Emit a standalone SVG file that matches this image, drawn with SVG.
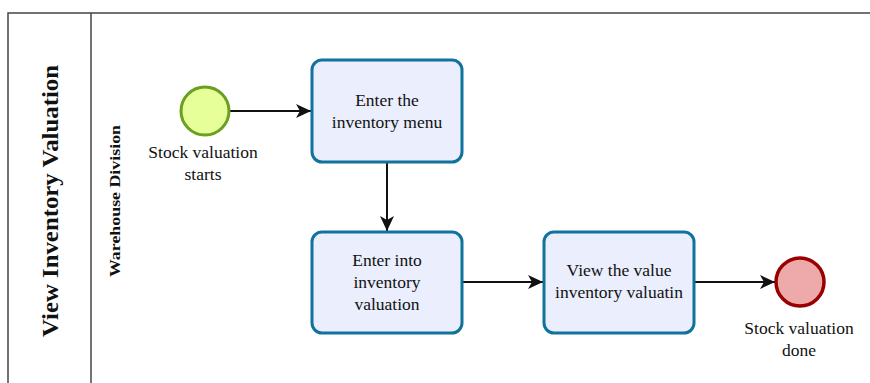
<svg xmlns="http://www.w3.org/2000/svg" width="870" height="383" viewBox="0 0 870 383">
<defs>
<style>
text{font-family:"Liberation Serif",serif;fill:#111;text-anchor:middle}
.t{font-size:17.5px}
.task{fill:#eaeefd;stroke:#10739e;stroke-width:3}
.ln{stroke:#111;stroke-width:2;fill:none}
.pool{fill:none;stroke:#444;stroke-width:1.5}
</style>
<marker id="ar" markerWidth="16" markerHeight="16" refX="15" refY="8" orient="auto" markerUnits="userSpaceOnUse" viewBox="0 0 16 16">
<path d="M0,1 L15,8 L0,15 L4,8 Z" fill="#111"/>
</marker>
</defs>
<rect width="870" height="383" fill="#fff"/>
<g id="pool">
<path class="pool" d="M8,390 L8,13 L880,13"/>
<line x1="91" y1="13" x2="91" y2="390" stroke="#444" stroke-width="1.5"/>
<text font-family="Liberation Serif, serif" transform="translate(58,201) rotate(-90)" font-size="24" font-weight="bold" textLength="272" lengthAdjust="spacingAndGlyphs">View Inventory Valuation</text>
</g>
<g id="lane">
<text font-family="Liberation Serif, serif" transform="translate(120,201) rotate(-90)" font-size="15" font-weight="bold" textLength="152" lengthAdjust="spacingAndGlyphs">Warehouse Division</text>
</g>
<g id="connectors">
<line class="ln" x1="230" y1="111" x2="311" y2="111" marker-end="url(#ar)"/>
<line class="ln" x1="387" y1="162" x2="387" y2="231" marker-end="url(#ar)"/>
<line class="ln" x1="462" y1="282" x2="543" y2="282" marker-end="url(#ar)"/>
<line class="ln" x1="694" y1="282" x2="775" y2="282" marker-end="url(#ar)"/>
</g>
<g id="start">
<circle cx="205" cy="111" r="24" fill="#e6ff99" stroke="#6a9f1f" stroke-width="3"/>
<text class="t" x="203" y="158">Stock valuation</text>
<text class="t" x="203" y="180">starts</text>
</g>
<g id="task1">
<rect class="task" x="312" y="60" width="150" height="102" rx="10"/>
<text class="t" x="387" y="106">Enter the</text>
<text class="t" x="387" y="128">inventory menu</text>
</g>
<g id="task2">
<rect class="task" x="312" y="232" width="150" height="101" rx="10"/>
<text class="t" x="387" y="266">Enter into</text>
<text class="t" x="387" y="288">inventory</text>
<text class="t" x="387" y="310">valuation</text>
</g>
<g id="task3">
<rect class="task" x="544" y="232" width="150" height="101" rx="10"/>
<text class="t" x="619" y="276">View the value</text>
<text class="t" x="619" y="298">inventory valuatin</text>
</g>
<g id="end">
<circle cx="800" cy="282" r="24" fill="#eeaaaa" stroke="#990000" stroke-width="3.5"/>
<text class="t" x="799" y="334">Stock valuation</text>
<text class="t" x="799" y="356">done</text>
</g>
</svg>
